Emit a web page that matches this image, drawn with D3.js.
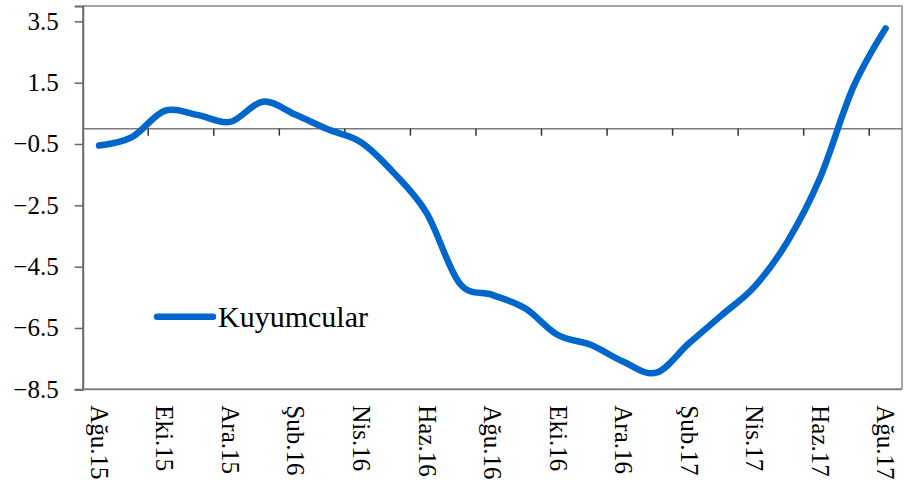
<!DOCTYPE html>
<html>
<head>
<meta charset="utf-8">
<script src="https://cdn.jsdelivr.net/npm/d3@7"></script>
<style>
  html, body { margin: 0; padding: 0; background: #fff; }
  svg { display: block; font-family: "Liberation Serif", "Times New Roman", serif; }
</style>
</head>
<body>
<div id="chart"></div>
<script>
// monthly categories (Aug 2015 - Aug 2017)
const months = ["Ağu.15","Eyl.15","Eki.15","Kas.15","Ara.15","Oca.16","Şub.16","Mar.16","Nis.16",
	"May.16","Haz.16","Tem.16","Ağu.16","Eyl.16","Eki.16","Kas.16","Ara.16","Oca.17","Şub.17",
	"Mar.17","Nis.17","May.17","Haz.17","Tem.17","Ağu.17"];

const kuyumcular = [-0.55, -0.28, 0.58, 0.45, 0.22, 0.88, 0.45, -0.03, -0.45, -1.45, -2.76, -5.04,
	-5.42, -5.86, -6.73, -7.05, -7.6, -7.96, -7.0, -6.08, -5.15, -3.69, -1.6, 1.32, 3.27];

const yTicks = [-8.5, -6.5, -4.5, -2.5, -0.5, 1.5, 3.5];
const yDomain = [-8.5, 4.0];
const seriesName = "Kuyumcular";

const width = 916, height = 492;
const plot = { left: 82.7, right: 902, top: 6, bottom: 389.3 };

const svg = d3.select("#chart")
	.append("svg")
	.attr("width", width)
	.attr("height", height);

const x = d3.scaleBand()
	.domain(months)
	.range([plot.left, plot.right])
	.padding(0);

const y = d3.scaleLinear()
	.domain(yDomain)
	.range([plot.bottom, plot.top]);

const cx = (d) => x(d) + x.bandwidth() / 2;

/* plot frame: light top/right, darker left/bottom */
svg.append("path")
	.attr("d", `M${plot.left},${plot.top}H${plot.right}V${plot.bottom}`)
	.attr("fill", "none")
	.attr("stroke", "#a6a6a6")
	.attr("stroke-width", 2);

/* y axis */
const yAxis = svg.append("g")
	.attr("transform", `translate(${plot.left},0)`)
	.call(d3.axisLeft(y).tickValues(yTicks).tickSize(8).tickPadding(16).tickFormat(d3.format(".1f")));
yAxis.select(".domain").attr("stroke", "#666").attr("stroke-width", 2);
yAxis.selectAll(".tick line").attr("stroke", "#666").attr("stroke-width", 1.5);
yAxis.selectAll(".tick text")
	.attr("font-family", "Liberation Serif, Times New Roman, serif")
	.attr("font-size", "25px")
	.attr("fill", "#000");

/* bottom edge */
svg.append("line")
	.attr("x1", plot.left).attr("x2", plot.right)
	.attr("y1", plot.bottom).attr("y2", plot.bottom)
	.attr("stroke", "#808080")
	.attr("stroke-width", 2);

/* zero line with category ticks every 2 months */
const zeroY = y(0);
svg.append("line")
	.attr("x1", plot.left).attr("x2", plot.right)
	.attr("y1", zeroY).attr("y2", zeroY)
	.attr("stroke", "#7a7a7a")
	.attr("stroke-width", 1.5);

const tickMonths = months.filter((d, i) => i > 0 && i % 2 === 0);
svg.append("g").selectAll("line")
	.data(tickMonths)
	.enter()
	.append("line")
		.attr("x1", (d) => x(d))
		.attr("x2", (d) => x(d))
		.attr("y1", zeroY)
		.attr("y2", zeroY + 7)
		.attr("stroke", "#333")
		.attr("stroke-width", 1.5);

/* rotated category labels */
svg.append("g").selectAll("text")
	.data(months.filter((d, i) => i % 2 === 0))
	.enter()
	.append("text")
		.attr("transform", (d) => `translate(${cx(d)},${plot.bottom + 16}) rotate(90)`)
		.attr("dy", "0.33em")
		.attr("font-size", "25px")
		.attr("fill", "#000")
		.text((d) => d);

/* series line */
const line = d3.line()
	.x((d, i) => cx(months[i]))
	.y((d) => y(d))
	.curve(d3.curveCardinal.tension(0));

svg.append("path")
	.datum(kuyumcular)
	.attr("d", line)
	.attr("fill", "none")
	.attr("stroke", "#0066cc")
	.attr("stroke-width", 6.5)
	.attr("stroke-linecap", "round")
	.attr("stroke-linejoin", "round");

/* legend */
const legend = svg.append("g").attr("transform", "translate(157,316.7)");
legend.append("line")
	.attr("x1", 0).attr("x2", 56)
	.attr("stroke", "#0066cc")
	.attr("stroke-width", 6.5)
	.attr("stroke-linecap", "round");
legend.append("text")
	.attr("x", 61)
	.attr("dy", "0.33em")
	.attr("font-size", "30px")
	.attr("fill", "#000")
	.text(seriesName);
</script>
</body>
</html>
